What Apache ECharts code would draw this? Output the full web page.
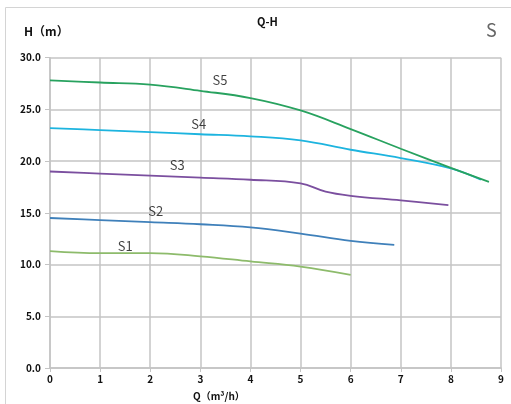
<!DOCTYPE html>
<html><head><meta charset="utf-8">
<script src="https://cdn.jsdelivr.net/npm/echarts@6/dist/echarts.min.js"></script>
<style>html,body{margin:0;padding:0;background:#fff}#c{width:511px;height:404px}</style>
</head><body><div id="c"></div>
<script>
const seriesNames = ['S1','S2','S3','S4','S5'];
const qS1 = [0,1,2,3,4,5,6];
const hS1 = [11.3,11.1,11.1,10.8,10.3,9.8,9.0];
const qS2 = [0,1,2,3,4,5,6,6.87];
const hS2 = [14.5,14.3,14.1,13.9,13.6,13.0,12.3,11.9];
const qS3 = [0,1,2,3,4,5,5.5,6,7,7.95];
const hS3 = [19.0,18.8,18.6,18.4,18.2,17.85,17.05,16.65,16.2,15.75];
const qS4 = [0,1,2,3,4,5,6,7,8,8.6];
const hS4 = [23.2,23.0,22.8,22.6,22.4,22.0,21.1,20.3,19.3,18.2];
const qS5 = [0,1,2,3,4,5,6,7,8,8.76];
const hS5 = [27.8,27.6,27.4,26.8,26.1,24.9,23.1,21.2,19.35,18.0];
const labelQ = [1.50,2.11,2.54,2.97,3.39];
const labelH = [11.8,15.2,19.6,23.6,27.85];
const xTicks = [0,1,2,3,4,5,6,7,8,9];
const yTicks = [0,5,10,15,20,25,30];
const colors = ['#8dbb6b','#3f80ba','#7b4f9f','#1db4df','#28a25f'];

const qs = [qS1,qS2,qS3,qS4,qS5];
const hs = [hS1,hS2,hS3,hS4,hS5];
const gridCol = '#c4c4c4';
const font = '"Noto Sans CJK SC", "Noto Sans", sans-serif';

const series = seriesNames.map((n,i)=>({
  name:n, type:'line', smooth:0.4, symbol:'none',
  lineStyle:{color:colors[i], width:1.8},
  data: qs[i].map((q,j)=>[q,hs[i][j]])
}));
series.push({
  type:'scatter', symbolSize:0, silent:true,
  data: seriesNames.map((n,i)=>({value:[labelQ[i],labelH[i]], name:n})),
  label:{show:true, position:'inside', formatter:p=>p.name, color:'#111', fontSize:13, fontFamily:font}
});

const chart = echarts.init(document.getElementById('c'), null, {renderer:'canvas'});
chart.setOption({
  animation:false,
  backgroundColor:'#fff',
  grid:{left:50, right:10, top:57.7, bottom:36},
  graphic:[
    {type:'rect', shape:{x:5.5,y:7.5,width:520,height:420}, style:{fill:'none', stroke:'#d4d4d4', lineWidth:1}},
    {type:'text', left:257, top:16, style:{text:'Q-H', font:'bold 11px '+font, fill:'#111'}},
    {type:'text', left:24, top:25, style:{text:'H（m）', font:'bold 12px '+font, fill:'#111'}},
    {type:'text', left:486, top:21, style:{text:'S', font:'18px '+font, fill:'#666'}},
    {type:'text', left:193, top:391, style:{text:'Q（m³/h）', font:'bold 10px '+font, fill:'#111'}}
  ],
  xAxis:{type:'value', min:xTicks[0], max:xTicks[xTicks.length-1], interval:1,
    axisLine:{show:true, lineStyle:{color:gridCol, width:1.5}},
    axisTick:{show:true, length:4, lineStyle:{color:gridCol}},
    axisLabel:{color:'#111', fontSize:10, fontWeight:'bold', fontFamily:font, margin:6},
    splitLine:{show:true, lineStyle:{color:gridCol, width:1.5}}},
  yAxis:{type:'value', min:yTicks[0], max:yTicks[yTicks.length-1], interval:5,
    axisLine:{show:true, lineStyle:{color:gridCol, width:1.5}},
    axisTick:{show:true, length:5, lineStyle:{color:gridCol}},
    axisLabel:{color:'#111', fontSize:10, fontWeight:'bold', fontFamily:font, margin:9, formatter:v=>v.toFixed(1)},
    splitLine:{show:true, lineStyle:{color:gridCol, width:1.5}}},
  series: series
});
</script></body></html>
